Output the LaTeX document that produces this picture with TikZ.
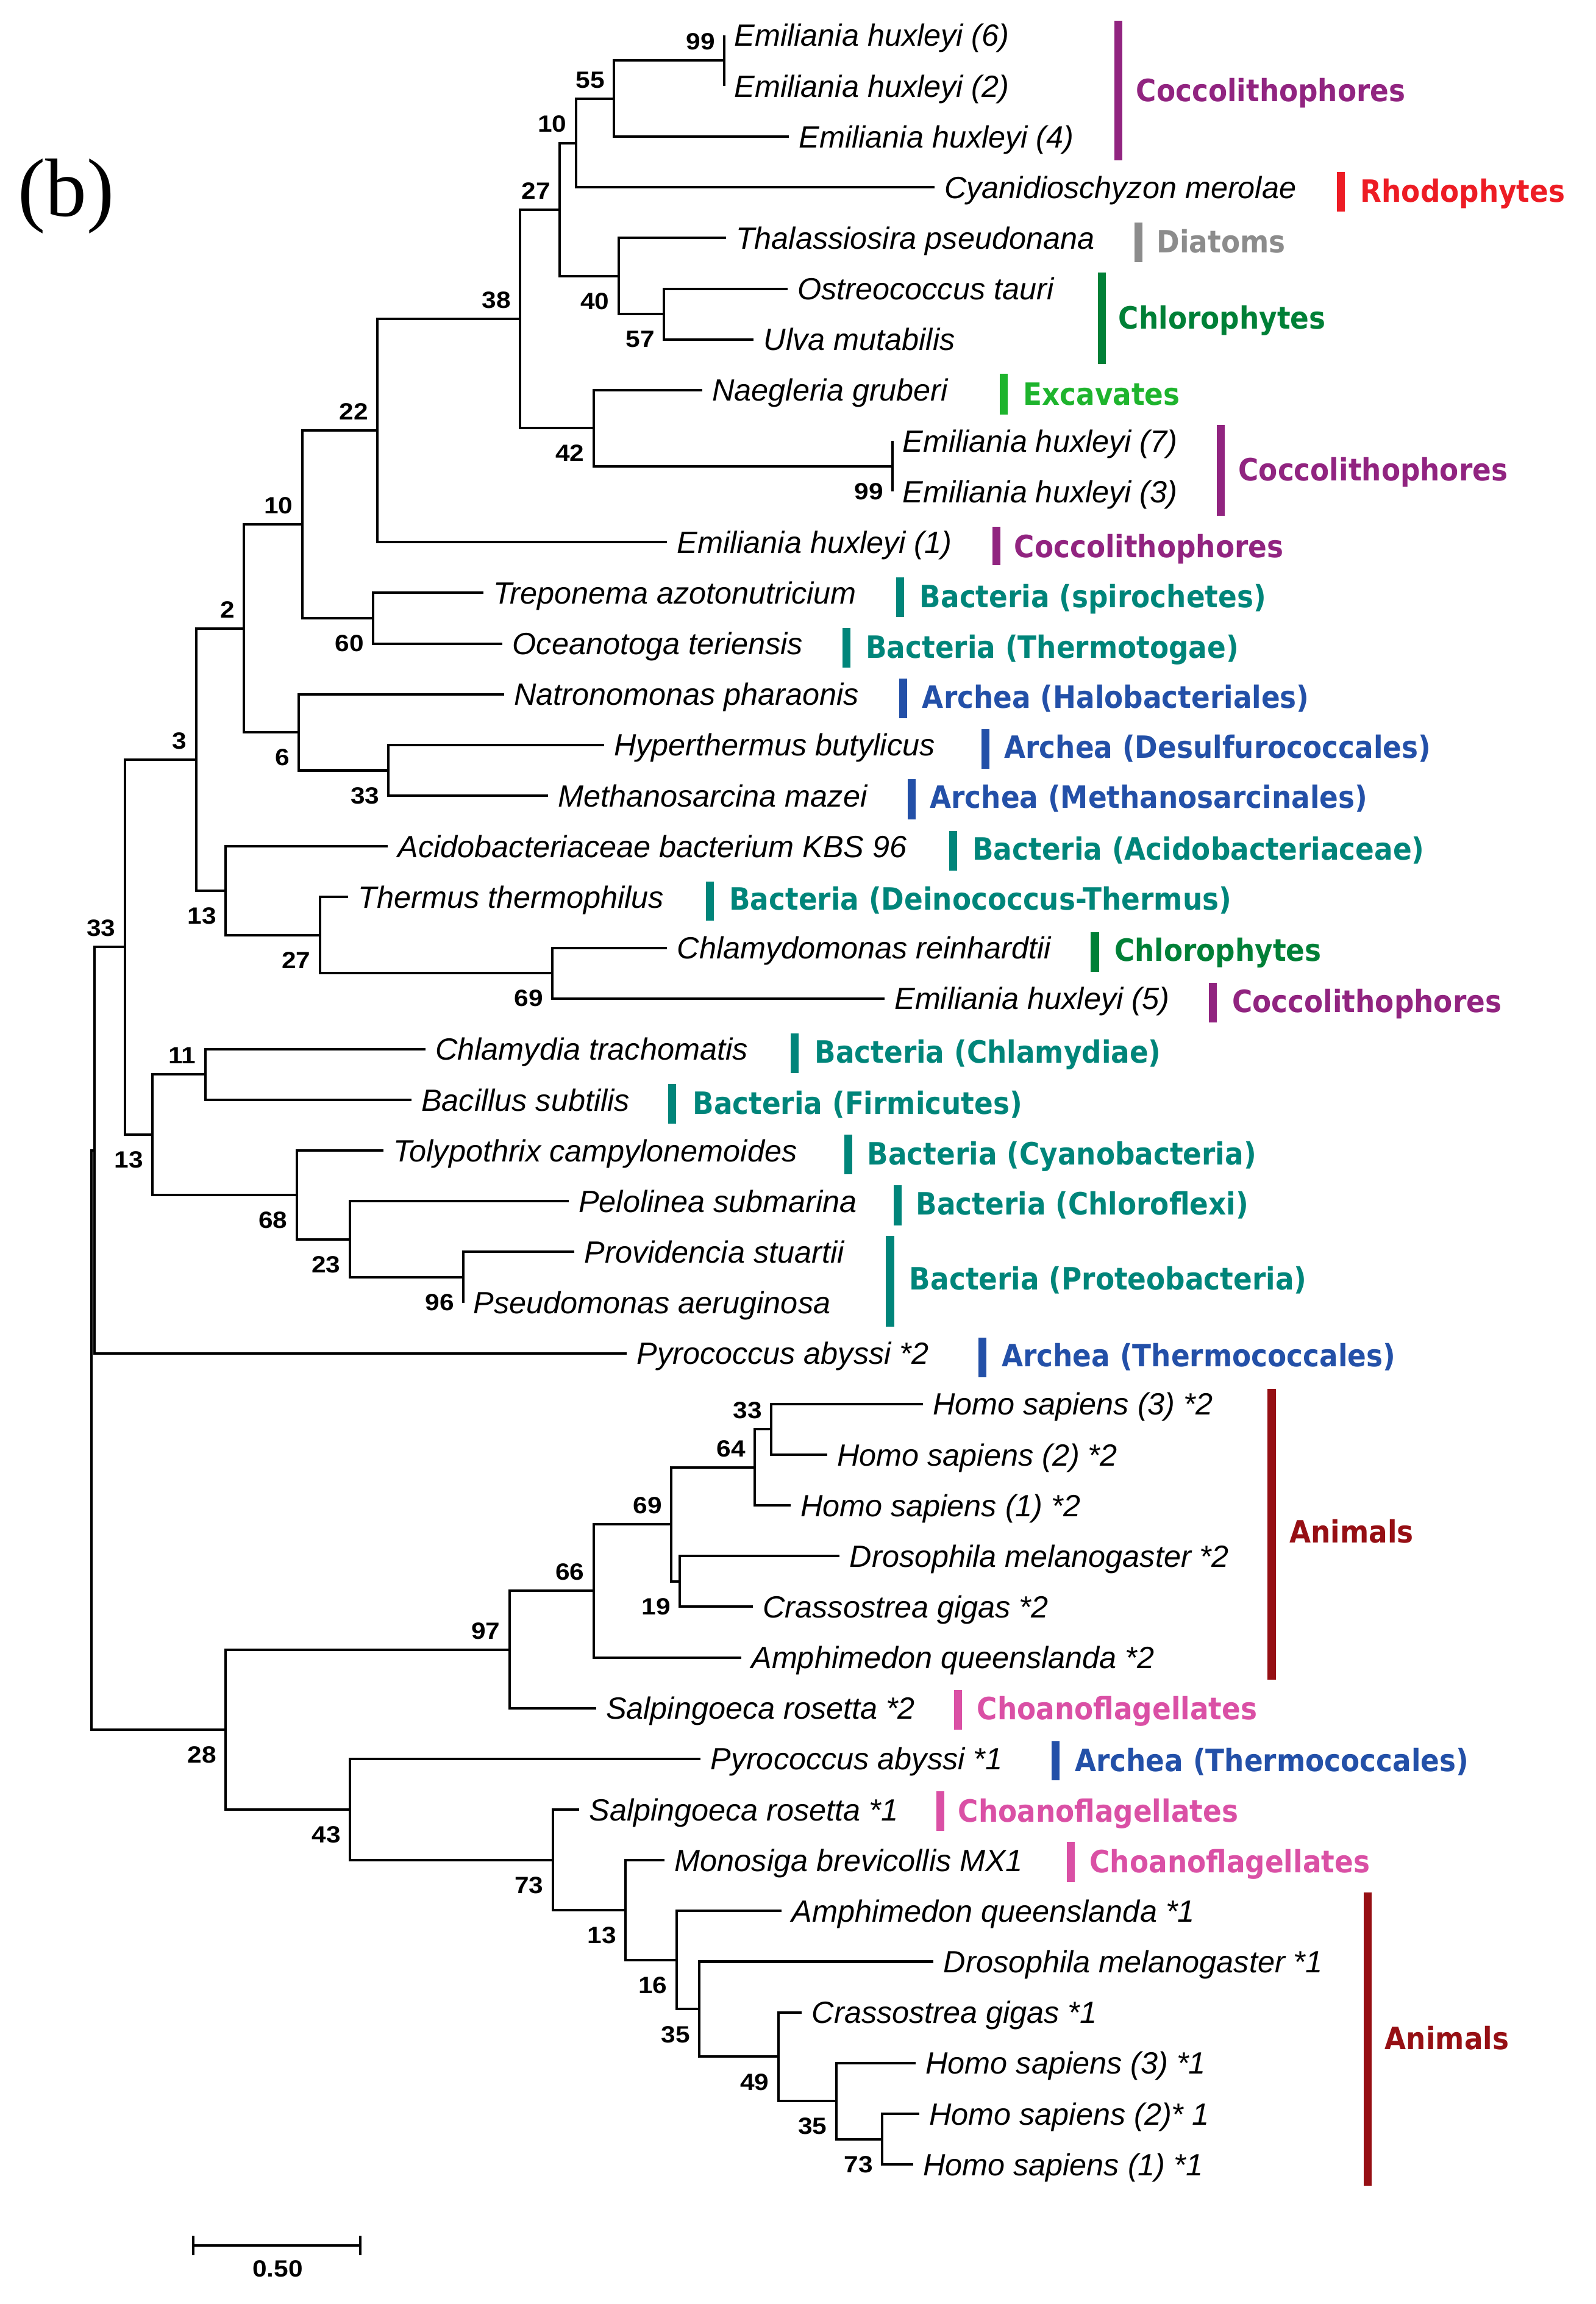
\documentclass[tikz,border=0pt]{standalone}
\usepackage{fontspec}
\usetikzlibrary{calc}
\setmainfont{Liberation Sans}
\newfontfamily\spfont{Liberation Sans}
\newfontfamily\grpfont{DejaVu Sans Bold}[FakeStretch=0.9]
\newfontfamily\bsfont{Liberation Sans Bold}[FakeStretch=1.1]
\newfontfamily\serifb{Liberation Serif}
\definecolor{coc}{RGB}{145,36,128}
\definecolor{rho}{RGB}{237,28,36}
\definecolor{dia}{RGB}{140,140,140}
\definecolor{chl}{RGB}{0,128,55}
\definecolor{exc}{RGB}{30,180,45}
\definecolor{bac}{RGB}{0,133,122}
\definecolor{arc}{RGB}{35,80,168}
\definecolor{ani}{RGB}{150,15,20}
\definecolor{cho}{RGB}{218,80,165}
\tikzset{
  br/.style={line width=0.95pt, line join=miter},
  sp/.style={font=\spfont\itshape\fontsize{11.9pt}{14pt}\selectfont, anchor=base west, inner sep=0pt},
  bs/.style={font=\bsfont\fontsize{9.1pt}{11pt}\selectfont, anchor=base east, inner sep=0pt},
  grp/.style={font=\grpfont\fontsize{11.9pt}{14pt}\selectfont, anchor=base west, inner sep=0pt},
  gbar/.style={line width=3.1pt},
}
\newcommand\mylf[4]{\coordinate (#1) at (#2,#3); \node[sp] (#1t) at (#2+6.5,#3+7.5) {#4};}
\newcommand\myin[3]{\coordinate (#1) at (#2,#3);}
\newcommand\myclade[3]{\draw[br] (#2) -| (#1) |- (#3);}
\newcommand\bsA[3]{\node[bs] (#1) at ($(#2)+(-6,-7.3)$) {#3};}
\newcommand\bsB[3]{\node[bs] (#1) at ($(#2)+(-6,22.7)$) {#3};}
\newcommand\mygrp[8]{\draw[gbar,#8] (#2,#3) -- (#2,#4); \node[grp,text=#8] (#1) at (#5-1,#6+7.6) {#7};}
\begin{document}
\begin{tikzpicture}[x=0.02cm,y=-0.02cm]
\fill[white] (0,0) rectangle (1086,1568);
\useasboundingbox (0,0) rectangle (1086,1568);
% leaves
\mylf{L1}{493}{24}{Emiliania huxleyi (6)}
\mylf{L2}{493}{58.5}{Emiliania huxleyi (2)}
\mylf{L3}{537}{93}{Emiliania huxleyi (4)}
\mylf{L4}{636}{127.5}{Cyanidioschyzon merolae}
\mylf{L5}{494}{162}{Thalassiosira pseudonana}
\mylf{L6}{536}{196.5}{Ostreococcus tauri}
\mylf{L7}{513}{231}{Ulva mutabilis}
\mylf{L8}{478}{265.5}{Naegleria gruberi}
\mylf{L9}{607.5}{300}{Emiliania huxleyi (7)}
\mylf{L10}{607.5}{334.5}{Emiliania huxleyi (3)}
\mylf{L11}{454}{369}{Emiliania huxleyi (1)}
\mylf{L12}{329}{403.5}{Treponema azotonutricium}
\mylf{L13}{342}{438}{Oceanotoga teriensis}
\mylf{L14}{343}{472.5}{Natronomonas pharaonis}
\mylf{L15}{411}{507}{Hyperthermus butylicus}
\mylf{L16}{373}{541.5}{Methanosarcina mazei}
\mylf{L17}{264}{576}{Acidobacteriaceae bacterium KBS 96}
\mylf{L18}{237}{610.5}{Thermus thermophilus}
\mylf{L19}{454}{645}{Chlamydomonas reinhardtii}
\mylf{L20}{602}{679.5}{Emiliania huxleyi (5)}
\mylf{L21}{289.5}{714}{Chlamydia trachomatis}
\mylf{L22}{280}{748.5}{Bacillus subtilis}
\mylf{L23}{261}{783}{Tolypothrix campylonemoides}
\mylf{L24}{387}{817.5}{Pelolinea submarina}
\mylf{L25}{391}{852}{Providencia stuartii}
\mylf{L26}{315.5}{886.5}{Pseudomonas aeruginosa}
\mylf{L27}{426.5}{921}{Pyrococcus abyssi *2}
\mylf{L28}{628}{955.5}{Homo sapiens (3) *2}
\mylf{L29}{563}{990}{Homo sapiens (2) *2}
\mylf{L30}{538}{1024.5}{Homo sapiens (1) *2}
\mylf{L31}{571.5}{1059}{Drosophila melanogaster *2}
\mylf{L32}{512.4}{1093.5}{Crassostrea gigas *2}
\mylf{L33}{504.5}{1128}{Amphimedon queenslanda *2}
\mylf{L34}{405.6}{1162.5}{Salpingoeca rosetta *2}
\mylf{L35}{476.7}{1197}{Pyrococcus abyssi *1}
\mylf{L36}{394.2}{1231.5}{Salpingoeca rosetta *1}
\mylf{L37}{452.4}{1266}{Monosiga brevicollis MX1}
\mylf{L38}{532}{1300.5}{Amphimedon queenslanda *1}
\mylf{L39}{635.4}{1335}{Drosophila melanogaster *1}
\mylf{L40}{545.8}{1369.5}{Crassostrea gigas *1}
\mylf{L41}{623.2}{1404}{Homo sapiens (3) *1}
\mylf{L42}{625.6}{1438.5}{Homo sapiens (2)* 1}
\mylf{L43}{621.4}{1473}{Homo sapiens (1) *1}
% internal nodes
\myin{n99a}{493}{41.25}
\myin{n55}{418}{67.125}
\myin{n10a}{392}{97.31}
\myin{n57}{452}{213.75}
\myin{n40}{421}{187.875}
\myin{n27a}{381}{142.59}
\myin{n99b}{607.5}{317.25}
\myin{n42}{404}{291.375}
\myin{n38}{354}{216.98}
\myin{n22}{257}{292.99}
\myin{n60}{254}{420.75}
\myin{n10b}{205.6}{356.87}
\myin{n33a}{264.5}{524.25}
\myin{n6}{203.5}{498.375}
\myin{n2}{166}{427.62}
\myin{n69a}{376}{662.25}
\myin{n27b}{217.7}{636.375}
\myin{n13a}{153.6}{606.19}
\myin{n3}{133.5}{516.9}
\myin{n11}{139.7}{731.25}
\myin{n96}{315.5}{869.25}
\myin{n23}{238}{843.375}
\myin{n68}{202}{813.19}
\myin{n13b}{103.7}{772.22}
\myin{n33r}{85}{644.56}
\myin{X}{64.3}{782.78}
\myin{n33c}{525}{972.75}
\myin{n64}{513.8}{998.625}
\myin{n19}{462.8}{1076.25}
\myin{n69b}{457}{1037.44}
\myin{n66}{404}{1082.72}
\myin{n97}{346.7}{1122.61}
\myin{n73b}{600.5}{1455.75}
\myin{n35b}{569.1}{1429.875}
\myin{n49}{529.7}{1399.69}
\myin{n35a}{476}{1367.34}
\myin{n16}{460.4}{1333.92}
\myin{n13c}{425.7}{1299.96}
\myin{n73a}{376.2}{1265.73}
\myin{n43}{238.2}{1231.37}
\myin{n28}{153.6}{1176.99}
\myin{R}{62.2}{979.9}
% branches
\myclade{n99a}{L1}{L2}
\myclade{n55}{n99a}{L3}
\myclade{n10a}{n55}{L4}
\myclade{n57}{L6}{L7}
\myclade{n40}{L5}{n57}
\myclade{n27a}{n10a}{n40}
\myclade{n99b}{L9}{L10}
\myclade{n42}{L8}{n99b}
\myclade{n38}{n27a}{n42}
\myclade{n22}{n38}{L11}
\myclade{n60}{L12}{L13}
\myclade{n10b}{n22}{n60}
\myclade{n33a}{L15}{L16}
\myclade{n6}{L14}{n33a}
\myclade{n2}{n10b}{n6}
\myclade{n69a}{L19}{L20}
\myclade{n27b}{L18}{n69a}
\myclade{n13a}{L17}{n27b}
\myclade{n3}{n2}{n13a}
\myclade{n11}{L21}{L22}
\myclade{n96}{L25}{L26}
\myclade{n23}{L24}{n96}
\myclade{n68}{L23}{n23}
\myclade{n13b}{n11}{n68}
\myclade{n33r}{n3}{n13b}
\myclade{X}{n33r}{L27}
\myclade{n33c}{L28}{L29}
\myclade{n64}{n33c}{L30}
\myclade{n19}{L31}{L32}
\myclade{n69b}{n64}{n19}
\myclade{n66}{n69b}{L33}
\myclade{n97}{n66}{L34}
\myclade{n73b}{L42}{L43}
\myclade{n35b}{L41}{n73b}
\myclade{n49}{L40}{n35b}
\myclade{n35a}{L39}{n49}
\myclade{n16}{L38}{n35a}
\myclade{n13c}{L37}{n16}
\myclade{n73a}{L36}{n13c}
\myclade{n43}{L35}{n73a}
\myclade{n28}{n97}{n43}
\myclade{R}{X}{n28}
% bootstrap values
\bsA{b99a}{n99a}{99}
\bsA{b55}{n55}{55}
\bsA{b10a}{n10a}{10}
\bsA{b27a}{n27a}{27}
\bsB{b40}{n40}{40}
\bsB{b57}{n57}{57}
\bsA{b38}{n38}{38}
\bsB{b42}{n42}{42}
\bsB{b99b}{n99b}{99}
\bsA{b22}{n22}{22}
\bsA{b10b}{n10b}{10}
\bsB{b60}{n60}{60}
\bsA{b2}{n2}{2}
\bsB{b6}{n6}{6}
\bsB{b33a}{n33a}{33}
\bsA{b3}{n3}{3}
\bsB{b13a}{n13a}{13}
\bsB{b27b}{n27b}{27}
\bsB{b69a}{n69a}{69}
\bsA{b33r}{n33r}{33}
\bsA{b11}{n11}{11}
\bsB{b13b}{n13b}{13}
\bsB{b68}{n68}{68}
\bsB{b23}{n23}{23}
\bsB{b96}{n96}{96}
\bsA{b33c}{n33c}{33}
\bsA{b64}{n64}{64}
\bsA{b69b}{n69b}{69}
\bsB{b19}{n19}{19}
\bsA{b66}{n66}{66}
\bsA{b97}{n97}{97}
\bsB{b28}{n28}{28}
\bsB{b43}{n43}{43}
\bsB{b73a}{n73a}{73}
\bsB{b13c}{n13c}{13}
\bsB{b16}{n16}{16}
\bsB{b35a}{n35a}{35}
\bsB{b49}{n49}{49}
\bsB{b35b}{n35b}{35}
\bsB{b73b}{n73b}{73}
% groups
\mygrp{g1}{761}{14}{109}{774}{61.6}{Coccolithophores}{coc}
\mygrp{g2}{912.6}{117}{144}{926.6}{130}{Rhodophytes}{rho}
\mygrp{g3}{775}{151.4}{178.6}{788}{164.5}{Diatoms}{dia}
\mygrp{g4}{749.8}{185.6}{247.7}{762}{216.3}{Chlorophytes}{chl}
\mygrp{g5}{683}{254.5}{282.2}{697}{268}{Excavates}{exc}
\mygrp{g6}{831}{289}{351}{843.6}{319.4}{Coccolithophores}{coc}
\mygrp{g7}{678.3}{358.4}{384.8}{691}{371.7}{Coccolithophores}{coc}
\mygrp{g8}{612.7}{393}{419.8}{626.7}{405.7}{Bacteria (spirochetes)}{bac}
\mygrp{g9}{576.1}{427.3}{454.2}{590}{440.4}{Bacteria (Thermotogae)}{bac}
\mygrp{g10}{614.8}{461.8}{488.7}{628.4}{474.3}{Archea (Halobacteriales)}{arc}
\mygrp{g11}{670.6}{496.2}{523.4}{684.2}{508.3}{Archea (Desulfurococcales)}{arc}
\mygrp{g12}{620.4}{530.4}{557.6}{633.6}{542.3}{Archea (Methanosarcinales)}{arc}
\mygrp{g13}{648.6}{565.6}{592.6}{662.6}{577.5}{Bacteria (Acidobacteriaceae)}{bac}
\mygrp{g14}{483}{600}{626.5}{497}{611.5}{Bacteria (Deinococcus-Thermus)}{bac}
\mygrp{g15}{745.2}{634.6}{661.2}{759.2}{646.6}{Chlorophytes}{chl}
\mygrp{g16}{825.4}{668.8}{695.7}{839.4}{681.3}{Coccolithophores}{coc}
\mygrp{g17}{540.8}{703.2}{730.1}{555.2}{715.8}{Bacteria (Chlamydiae)}{bac}
\mygrp{g18}{457.6}{737.7}{764.8}{472.2}{750.5}{Bacteria (Firmicutes)}{bac}
\mygrp{g19}{577.2}{772}{799}{591}{785}{Bacteria (Cyanobacteria)}{bac}
\mygrp{g20}{611}{806.6}{833.8}{624.2}{819.2}{Bacteria (Chloroflexi)}{bac}
\mygrp{g21}{605.8}{841}{903}{619.7}{870.2}{Bacteria (Proteobacteria)}{bac}
\mygrp{g22}{668.5}{910.5}{937.4}{682.5}{922.3}{Archea (Thermococcales)}{arc}
\mygrp{g23}{865.5}{945}{1142.9}{878.4}{1042.5}{Animals}{ani}
\mygrp{g24}{652.1}{1150}{1177}{665.7}{1162.5}{Choanoflagellates}{cho}
\mygrp{g25}{718.4}{1185}{1211.4}{732.3}{1198}{Archea (Thermococcales)}{arc}
\mygrp{g26}{640}{1219}{1246}{652.8}{1232.5}{Choanoflagellates}{cho}
\mygrp{g27}{728.8}{1253.5}{1280.7}{742.4}{1266.7}{Choanoflagellates}{cho}
\mygrp{g28}{930.7}{1287.8}{1487.6}{943.3}{1387.3}{Animals}{ani}
% scale bar
\coordinate (sbL) at (131.7,1528.2);
\coordinate (sbR) at (245.1,1528.2);
\draw[br] (sbL) -- (sbR);
\draw[br] ($(sbL)+(0,-6.6)$) -- ($(sbL)+(0,6.6)$);
\draw[br] ($(sbR)+(0,-6.6)$) -- ($(sbR)+(0,6.6)$);
\node[bs, anchor=base] (sbT) at (189,1549.6) {0.50};
% panel label
\node[font=\serifb\fontsize{32pt}{38pt}\selectfont, anchor=base west, inner sep=0pt] (panel) at (12,147) {(b)};
\end{tikzpicture}
\end{document}
